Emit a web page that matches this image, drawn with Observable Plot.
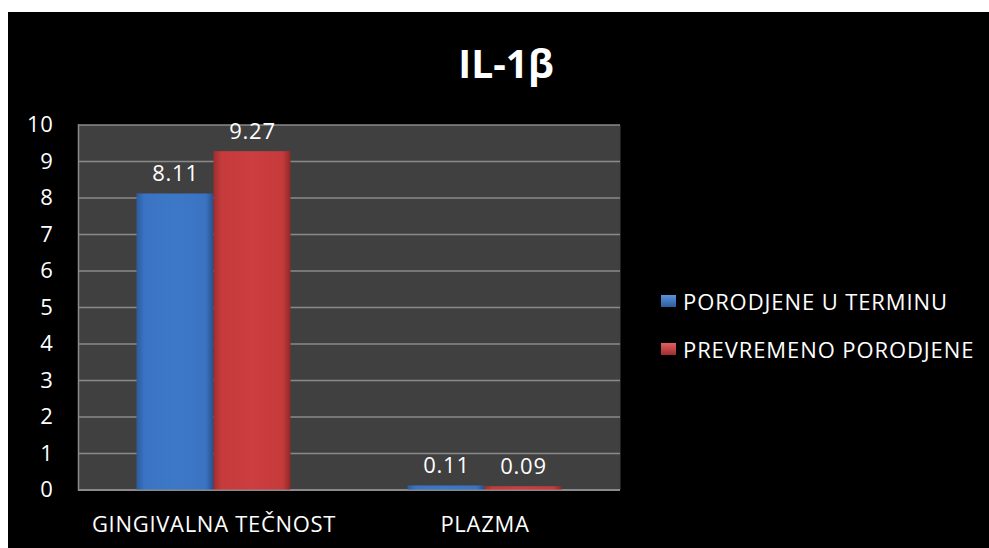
<!DOCTYPE html>
<html>
<head>
<meta charset="utf-8">
<script src="https://cdn.jsdelivr.net/npm/d3@7"></script>
<script src="https://cdn.jsdelivr.net/npm/@observablehq/plot@0.6"></script>
<style>
  html, body { margin: 0; padding: 0; background: #ffffff; }
  #chart { position: absolute; left: 8px; top: 12px; width: 981px; height: 536px; background: #000000; overflow: hidden; font-family: "Open Sans", sans-serif; color: #ffffff; }
  #title { position: absolute; left: 398px; width: 200px; top: 31px; text-align: center; font-weight: bold; font-size: 39px; line-height: 1; }
  #plot { position: absolute; left: 0; top: 88px; }
  #plot text { letter-spacing: 0.7px; }
  #legend { position: absolute; left: 653px; top: 265px; }
  .row { height: 48px; display: flex; align-items: center; font-size: 22px; letter-spacing: 0.9px; white-space: nowrap; }
  .sw { width: 15px; height: 12px; margin-right: 7px; }
</style>
</head>
<body>
<div id="chart">
  <div id="title"></div>
  <div id="plot"></div>
  <div id="legend"></div>
</div>
<script>
const titleText = "IL-1β";
const categories = ["GINGIVALNA TEČNOST", "PLAZMA"];
const seriesNames = ["PORODJENE U TERMINU", "PREVREMENO PORODJENE"];
const termValues = [8.11, 0.11];
const pretermValues = [9.27, 0.09];
const yTicks = [0, 1, 2, 3, 4, 5, 6, 7, 8, 9, 10];
const seriesColors = ["#3b77c6", "#c93c3d"];

const rows = [];
categories.forEach((c, i) => {
  rows.push({category: c, series: seriesNames[0], value: termValues[i], label: termValues[i].toFixed(2)});
  rows.push({category: c, series: seriesNames[1], value: pretermValues[i], label: pretermValues[i].toFixed(2)});
});
const termRows = rows.filter(d => d.series === seriesNames[0]);
const pretermRows = rows.filter(d => d.series === seriesNames[1]);

document.getElementById("title").textContent = titleText;

const gridColor = "#8a8a8a";

const chart = Plot.plot({
  width: 640,
  height: 448,
  marginLeft: 70,
  marginRight: 28,
  marginTop: 24.5,
  marginBottom: 58.5,
  style: {background: "transparent", color: "#ffffff", fontFamily: "Open Sans, sans-serif", fontSize: "22px", overflow: "visible"},
  x: {type: "band", domain: categories, padding: 0},
  y: {domain: [0, 10]},
  color: {domain: seriesNames, range: seriesColors},
  marks: [
    Plot.frame({fill: "#404040", stroke: null}),
    Plot.gridY(yTicks, {stroke: gridColor, strokeOpacity: 1, strokeWidth: 1.5}),
    Plot.frame({anchor: "left", stroke: gridColor, strokeWidth: 1.5}),
    Plot.ruleY([0], {stroke: gridColor, strokeWidth: 2}),
    Plot.barY(termRows, {x: "category", y: "value", fill: "url(#gradBlue)", insetLeft: 58.5, insetRight: 135.5}),
    Plot.barY(pretermRows, {x: "category", y: "value", fill: "url(#gradRed)", insetLeft: 135.5, insetRight: 58.5}),
    Plot.text(termRows, {x: "category", y: "value", text: "label", dx: -38.5, dy: -12.5, lineAnchor: "bottom", fill: "#ffffff", fontSize: 22}),
    Plot.text(pretermRows, {x: "category", y: "value", text: "label", dx: 38.5, dy: -12.5, lineAnchor: "bottom", fill: "#ffffff", fontSize: 22}),
    Plot.axisY(yTicks, {tickSize: 0, tickPadding: 25, label: null, fill: "#ffffff", fontSize: 22}),
    Plot.axisX({tickSize: 0, tickPadding: 26, label: null, fill: "#ffffff", fontSize: 22})
  ]
});

const svgNS = "http://www.w3.org/2000/svg";
const svg = chart.tagName.toLowerCase() === "svg" ? chart : chart.querySelector("svg");
const defs = document.createElementNS(svgNS, "defs");
function addGrad(id, stops) {
  const g = document.createElementNS(svgNS, "linearGradient");
  g.setAttribute("id", id);
  g.setAttribute("x1", "0"); g.setAttribute("x2", "1"); g.setAttribute("y1", "0"); g.setAttribute("y2", "0");
  stops.forEach(([o, c]) => {
    const s = document.createElementNS(svgNS, "stop");
    s.setAttribute("offset", o); s.setAttribute("stop-color", c);
    g.appendChild(s);
  });
  defs.appendChild(g);
}
addGrad("gradBlue", [["0%", "#2c5c9e"], ["10%", "#3a73c2"], ["50%", "#3d78c8"], ["90%", "#3a73c2"], ["100%", "#284f8a"]]);
addGrad("gradRed", [["0%", "#9e2e2f"], ["10%", "#c53a3b"], ["50%", "#cc3e3f"], ["90%", "#c53a3b"], ["100%", "#8e2728"]]);
svg.insertBefore(defs, svg.firstChild);

document.getElementById("plot").appendChild(chart);

const legend = document.getElementById("legend");
seriesNames.forEach((name, i) => {
  const row = document.createElement("div");
  row.className = "row";
  const sw = document.createElement("div");
  sw.className = "sw";
  sw.style.background = i === 0 ? "linear-gradient(#5a92dc, #2c5c9e)" : "linear-gradient(#e06060, #9e2e2f)";
  const t = document.createElement("span");
  t.textContent = name;
  row.appendChild(sw);
  row.appendChild(t);
  legend.appendChild(row);
});
</script>
</body>
</html>
